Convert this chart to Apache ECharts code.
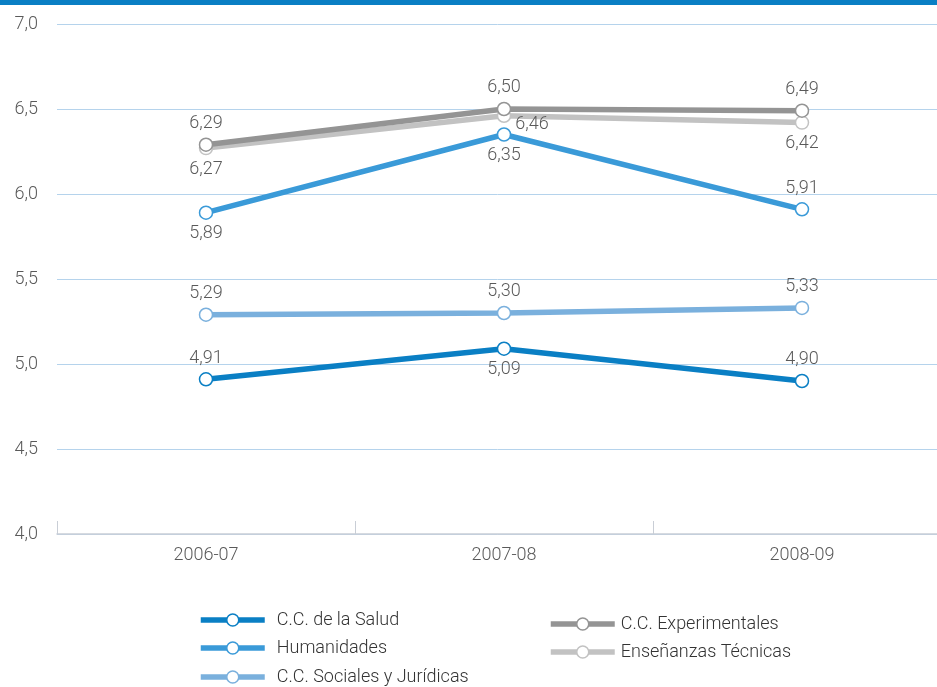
<!DOCTYPE html>
<html>
<head>
<meta charset="utf-8">
<script src="https://cdn.jsdelivr.net/npm/echarts@6/dist/echarts.min.js"></script>
<style>
html,body{margin:0;padding:0;background:#fff;}
#chart{width:937px;height:687px;}
</style>
</head>
<body>
<div id="chart"></div>
<script>
var categories = ['2006-07', '2007-08', '2008-09'];
var salud = [4.91, 5.09, 4.90];
var humanidades = [5.89, 6.35, 5.91];
var sociales = [5.29, 5.30, 5.33];
var experimentales = [6.29, 6.50, 6.49];
var tecnicas = [6.27, 6.46, 6.42];

var saludPos = ['top', 'bottom', 'top'];
var humanidadesPos = ['bottom', 'bottom', 'top'];
var socialesPos = ['top', 'top', 'top'];
var experimentalesPos = ['top', 'top', 'top'];
var tecnicasPos = ['bottom', 'right', 'bottom'];

var FONT = 'Roboto, "DejaVu Sans", sans-serif';
var TXT = '#5a5a5a';

function fmt(v) { return v.toFixed(2).replace('.', ','); }

function mkSeries(name, values, positions, color, z) {
  return {
    name: name,
    type: 'line',
    z: z,
    data: values.map(function (v, i) {
      var lbl = { position: positions[i] };
      if (positions[i] === 'right') { lbl.offset = [0, 9]; lbl.distance = 4; }
      return { value: v, label: lbl };
    }),
    symbol: 'circle',
    symbolSize: 13,
    showAllSymbol: true,
    lineStyle: { color: color, width: 5.5 },
    itemStyle: { color: '#fff', borderColor: color, borderWidth: 1.5 },
    emphasis: { disabled: true },
    label: {
      show: true,
      formatter: function (p) { return fmt(p.value); },
      color: TXT,
      fontFamily: FONT,
      fontWeight: 300,
      fontSize: 18,
      distance: 5
    }
  };
}

function mkLegend(name, left, top, padLeft) {
  return {
    data: [name],
    orient: 'horizontal',
    left: left, top: top,
    padding: 0,
    itemWidth: 64, itemHeight: 15,
    itemStyle: { color: '#fff', borderWidth: 1.5 },
    lineStyle: { width: 5.5 },
    textStyle: { color: '#333', fontFamily: FONT, fontWeight: 300, fontSize: 18, padding: [0, 0, 0, padLeft] }
  };
}

var chart = echarts.init(document.getElementById('chart'), null, { renderer: 'canvas' });
chart.setOption({
  animation: false,
  backgroundColor: '#fff',
  graphic: [{
    type: 'rect', left: 0, top: 0,
    shape: { x: 0, y: 0, width: 937, height: 5 },
    style: { fill: '#0a7fc4' }
  }],
  grid: { left: 57, top: 24, width: 894, height: 510, containLabel: false, outerBoundsMode: 'none' },
  xAxis: {
    type: 'category',
    data: categories,
    boundaryGap: true,
    axisLine: { show: true, lineStyle: { color: '#c9ced6', width: 1.5 } },
    axisTick: { show: true, inside: true, length: 13, alignWithLabel: false, lineStyle: { color: '#c9ced6' } },
    axisLabel: { color: TXT, fontFamily: FONT, fontWeight: 300, fontSize: 18, margin: 12 },
    splitLine: { show: false }
  },
  yAxis: {
    type: 'value',
    min: 4.0, max: 7.0, interval: 0.5,
    axisLine: { show: false },
    axisTick: { show: false },
    axisLabel: {
      color: TXT, fontFamily: FONT, fontWeight: 300, fontSize: 18, margin: 19,
      formatter: function (v) { return v.toFixed(1).replace('.', ','); }
    },
    splitLine: { show: true, lineStyle: { color: '#b5d3ec', width: 1 } }
  },
  legend: [
    mkLegend('C.C. de la Salud', 198, 611, 7),
    mkLegend('Humanidades', 198, 639, 7),
    mkLegend('C.C. Sociales y Jurídicas', 198, 668, 7),
    mkLegend('C.C. Experimentales', 548, 615, 1),
    mkLegend('Enseñanzas Técnicas', 548, 643, 1)
  ],
  series: [
    mkSeries('C.C. de la Salud', salud, saludPos, '#0a7fc4', 5),
    mkSeries('Humanidades', humanidades, humanidadesPos, '#3a9ad8', 4),
    mkSeries('C.C. Sociales y Jurídicas', sociales, socialesPos, '#7ab0dd', 3),
    mkSeries('C.C. Experimentales', experimentales, experimentalesPos, '#949494', 2),
    mkSeries('Enseñanzas Técnicas', tecnicas, tecnicasPos, '#c2c2c2', 1)
  ]
});
</script>
</body>
</html>
